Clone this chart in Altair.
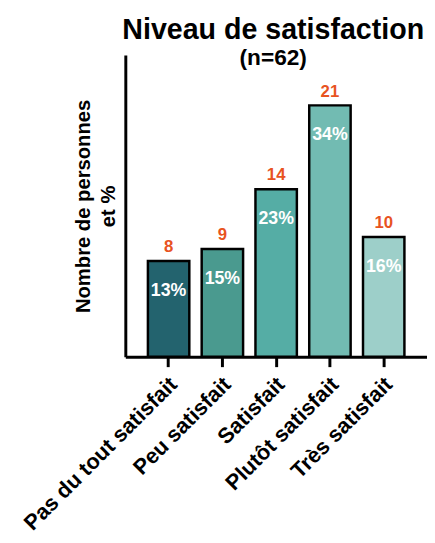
import altair as alt
import pandas as pd

categories = ["Pas du tout satisfait", "Peu satisfait", "Satisfait", "Plutôt satisfait", "Très satisfait"]
counts = [8, 9, 14, 21, 10]
percents = ["13%", "15%", "23%", "34%", "16%"]
colors = ["#23636e", "#4a9a8f", "#55ada5", "#72bbb2", "#9dcfc9"]

df = pd.DataFrame({"cat": categories, "n": counts, "pct": percents})

FONT = "Liberation Sans"

x = alt.X("cat:N", sort=categories, title=None,
          scale=alt.Scale(paddingInner=0.23, paddingOuter=0.42),
          axis=alt.Axis(labelAngle=-45, labelFontSize=22, labelFont=FONT, labelFontWeight="bold",
                        labelColor="black", domainColor="black", domainWidth=3, labelLimit=400,
                        tickColor="black", tickWidth=3, tickSize=10, labelPadding=14, labelOffset=5,
                        labelAlign="right", labelBaseline="middle"))
y = alt.Y("n:Q", scale=alt.Scale(domain=[0, 25.2], nice=False),
          axis=alt.Axis(title=["Nombre de personnes", "et %"], titleFontSize=20.5, titleFont=FONT,
                        titleFontWeight="bold", titleColor="black", labels=False, ticks=False,
                        titleLineHeight=25,
                        grid=False, domainColor="black", domainWidth=3, titlePadding=7))

base = alt.Chart(df)

bars = base.mark_bar(stroke="black", strokeWidth=2.5).encode(
    x=x, y=y,
    color=alt.Color("cat:N", sort=categories, scale=alt.Scale(domain=categories, range=colors), legend=None),
)

count_text = base.mark_text(dy=-14, baseline="middle", font=FONT, fontWeight="bold",
                            fontSize=17, color="#e8531f").encode(
    x=alt.X("cat:N", sort=categories), y="n:Q", text="n:Q")

pct_text = base.mark_text(dy=30, baseline="middle", font=FONT, fontWeight="bold",
                          fontSize=18, color="white").encode(
    x=alt.X("cat:N", sort=categories), y="n:Q", text="pct:N")

chart = alt.layer(bars, count_text, pct_text).properties(
    width=306, height=306,
    title=alt.TitleParams(text="Niveau de satisfaction", subtitle="(n=62)",
                          fontSize=29, font=FONT, fontWeight="bold", color="black",
                          subtitleFontSize=23, subtitleFont=FONT, subtitleFontWeight="bold",
                          subtitleColor="black", anchor="middle", offset=-15, subtitlePadding=2,
                          dx=-3),
    autosize=alt.AutoSizeParams(type="none"),
    padding={"left": 119, "top": 44, "right": 0, "bottom": 177},
).configure_view(stroke=None)

chart.save("out.html", embed_options={"renderer": "svg", "actions": False})
